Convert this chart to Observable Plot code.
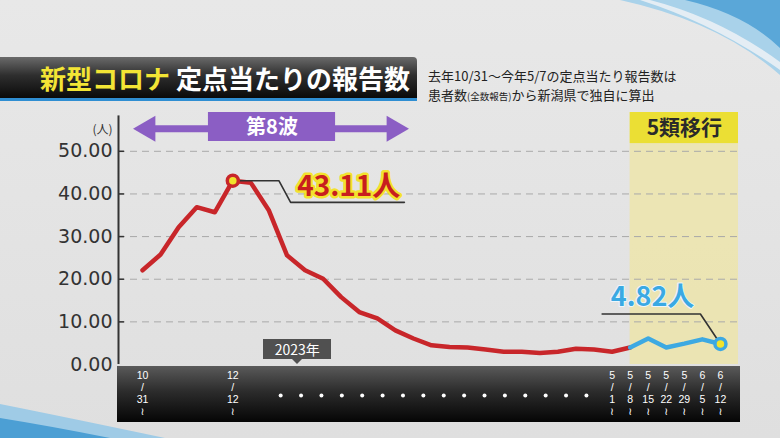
<!DOCTYPE html>
<html lang="ja"><head><meta charset="utf-8">
<script src="https://cdn.jsdelivr.net/npm/d3@7"></script>
<script src="https://cdn.jsdelivr.net/npm/@observablehq/plot@0.6"></script>
<style>
html,body{margin:0;padding:0;}
body{width:780px;height:438px;overflow:hidden;background:#e4e4e4;font-family:"Noto Sans CJK JP","Noto Sans",sans-serif;}
#wrap{position:relative;width:780px;height:438px;overflow:hidden;background:linear-gradient(180deg,#e8e8e8,#dfdfdf);}
#deco{position:absolute;left:0;top:0;}
#band{position:absolute;left:117px;top:366px;width:623px;height:56px;background:linear-gradient(180deg,#5a5a5a 0%,#2c2c2c 45%,#050505 100%);}
#title{position:absolute;left:0;top:57px;width:417px;height:41px;background:linear-gradient(180deg,#6a6a6a 0%,#2e2e2e 45%,#0a0a0a 100%);border-bottom:3px solid #2f8ed2;border-radius:0 4px 0 0;}
#title .t{position:absolute;left:40px;top:0;line-height:41px;font-size:26px;font-weight:700;white-space:nowrap;}
#title .yl{color:#f3e535}
#title .wh{color:#fff;margin-left:6px}
#sub{position:absolute;left:428px;top:66px;font-size:13px;line-height:19px;color:#222;white-space:nowrap;}
#sub small{font-size:9.5px;}
#chart{position:absolute;left:0;top:0;}
#yr{position:absolute;top:339px;height:20px;width:68px;background:#505050;color:#fff;font-size:14px;line-height:20px;text-align:center;font-family:"Noto Sans CJK JP",sans-serif;}
#yr:after{content:"";position:absolute;left:29px;top:20px;border-left:5px solid transparent;border-right:5px solid transparent;border-top:5px solid #505050;}
</style></head>
<body>
<div id="wrap">
  <svg id="deco" width="780" height="438">
    <path d="M620,0 L780,0 L780,75 Q720,22 620,0 Z" fill="#a9d2ea"/>
    <path d="M685,0 L780,0 L780,48 Q745,14 685,0 Z" fill="#5aa7d8"/>
    <path d="M650,0 Q720,18 780,62 L780,70 Q715,24 640,0 Z" fill="#f2f4f6" opacity="0.8"/>
    <path d="M0,404 Q70,418 165,438 L0,438 Z" fill="#9fcbe6"/>
    <path d="M0,418 Q50,426 110,438 L0,438 Z" fill="#4c9fd4"/>
  </svg>
  <div id="band"></div>
  <div id="chart"></div>
  <div id="title"><div class="t"><span class="yl">新型コロナ</span><span class="wh">定点当たりの報告数</span></div></div>
  <div id="sub">去年10/31～今年5/7の定点当たり報告数は<br>患者数<small>(全数報告)</small>から新潟県で独自に算出</div>
  <div id="yr">2023年</div>
</div>
<script>
// weekly points (10/31 ~ 6/12)
const estimateValues = [22.1,25.8,32.2,36.9,35.7,43.11,42.6,36.1,25.6,22.1,20.1,15.8,12.3,10.8,8.0,6.1,4.5,4.1,4.0,3.5,3.0,3.0,2.7,3.0,3.7,3.5,3.0];
const sentinelValues = [4.0,6.1,4.0,4.9,5.9,4.82];
const tickLabels = ["10/31","12/12","5/1","5/8","5/15","5/22","5/29","6/5","6/12"];
const tickWeeks = [0,5,26,27,28,29,30,31,32];
const yTicks = [0,10,20,30,40,50];
const waveLabel = "第8波";
const phaseLabel = "5類移行";
const unit = "人";

const est = estimateValues.map((v,i)=>({i, v}));
const sen = sentinelValues.map((v,k)=>({i: estimateValues.length + k, v}));
const redLine = est.concat([sen[0]]);
const peak = est.reduce((a,b)=> b.v > a.v ? b : a);
const last = sen[sen.length-1];
const shiftIdx = sen[0].i;

const xMin = -1.33, xMax = 33, yMax = 59.1;
const labelOf = new Map(tickWeeks.map((w,k)=>[w, tickLabels[k]]));
const fmtTick = w => { const [m,d] = labelOf.get(w).split("/"); return `${m}\n/\n${d}\n≀`; };

const peakLeader = [
  {x: peak.i, y: peak.v}, {x: peak.i+2.55, y: peak.v}, {x: peak.i+3.2, y: peak.v-5.08}, {x: peak.i+9.5, y: peak.v-5.08}
];
const lastLeader = [
  {x: last.i, y: last.v}, {x: last.i-1.11, y: last.v+7.03}, {x: last.i-6.55, y: last.v+7.03}
];
const dots = d3.range(16).map(k => 7.65 + k*(24.58-7.65)/15);

const chart = Plot.plot({
  width: 780, height: 438,
  marginLeft: 118, marginRight: 42, marginTop: 112, marginBottom: 74,
  style: {background: "transparent", fontFamily: "'Noto Sans CJK JP', sans-serif", overflow: "visible"},
  x: {domain: [xMin, xMax], axis: null},
  y: {domain: [0, yMax], axis: null},
  marks: [
    // 5類移行 band
    Plot.rect([{}], {x1: shiftIdx, x2: xMax, y1: 0, y2: 51.8, fill: "#f0e6a0", fillOpacity: 0.7}),
    Plot.rect([{}], {x1: shiftIdx, x2: xMax, y1: 51.8, y2: yMax, fill: "#ebdf34"}),
    Plot.text([phaseLabel], {x: (shiftIdx + xMax)/2, y: 55.5, fill: "#2a2a2a", fontSize: 21, fontWeight: 700}),
    // grid
    Plot.ruleY(yTicks.filter(d=>d>0), {x1: xMin, x2: xMax, stroke: "#a9a9a9", strokeDasharray: "7,5", strokeWidth: 1}),
    Plot.ruleY(yTicks.filter(d=>d>0), {x1: xMin, x2: xMin + 0.33, stroke: "#333", strokeWidth: 1.5}),
    Plot.ruleX([xMin], {y1: 0, y2: 58.3, stroke: "#333", strokeWidth: 2}),
    Plot.axisY({ticks: yTicks, tickFormat: d => d.toFixed(2), tickSize: 0, tickPadding: 6, fontSize: 19, fill: "#333", fontFamily: "DejaVu Sans", label: null}),
    Plot.text(["(人)"], {frameAnchor: "top-left", dx: -6, dy: 13, textAnchor: "end", fontSize: 12, fill: "#333"}),
    // wave arrow
    Plot.ruleY([55.3], {x1: 0.3, x2: 13.93, stroke: "#8b5ec4", strokeWidth: 7}),
    Plot.dot([{x: 0.3, r: -90}, {x: 13.93, r: 90}], {x: "x", y: 55.3, rotate: "r", symbol: "triangle", r: 9.6, fill: "#8b5ec4"}),
    Plot.rect([{}], {x1: 3.65, x2: 10.69, y1: 52.3, y2: yMax, fill: "#8b5ec4"}),
    Plot.text([waveLabel], {x: (3.65+10.69)/2, y: 55.6, fill: "#fff", fontSize: 20, fontWeight: 700}),
    // lines
    Plot.line(redLine, {x: "i", y: "v", stroke: "#c8262a", strokeWidth: 4.5, strokeLinejoin: "round", strokeLinecap: "round"}),
    Plot.line(sen, {x: "i", y: "v", stroke: "#3da9e2", strokeWidth: 4.5, strokeLinejoin: "round", strokeLinecap: "round"}),
    // leaders
    Plot.line(peakLeader, {x: "x", y: "y", stroke: "#333", strokeWidth: 1.6}),
    Plot.line(lastLeader, {x: "x", y: "y", stroke: "#333", strokeWidth: 1.6}),
    Plot.dot([peak], {x: "i", y: "v", r: 5.5, fill: "#f1e32c", stroke: "#c8262a", strokeWidth: 3.5}),
    Plot.dot([last], {x: "i", y: "v", r: 5.5, fill: "#f1e32c", stroke: "#3da9e2", strokeWidth: 3.5}),
    Plot.text([peak], {x: d => d.i + 6.42, y: d => d.v - 1.4, text: d => d.v.toFixed(2) + unit, fontSize: 28, fontWeight: 700, fill: "#c81e1e", stroke: "#f3e22e", strokeWidth: 5, paintOrder: "stroke"}),
    Plot.text([last], {x: d => d.i - 3.76, y: d => d.v + 11.0, text: d => d.v.toFixed(2) + unit, fontSize: 27, fontWeight: 700, fill: "#3aa9e3", stroke: "#eef6fb", strokeWidth: 2, paintOrder: "stroke"}),
    // x axis labels
    Plot.axisX({ticks: tickWeeks, tickFormat: fmtTick, tickSize: 0, tickPadding: 6, fontSize: 10.5, lineHeight: 1.15, fill: "#fff", fontFamily: "'Liberation Sans', 'DejaVu Sans', sans-serif", label: null}),
    Plot.dot(dots, {x: d => d, frameAnchor: "bottom", dy: 31, r: 2, fill: "#fff"})
  ]
});
document.getElementById("chart").appendChild(chart);
const xs = chart.scale("x");
const yr = document.getElementById("yr");
yr.style.left = (xs.apply(8.6) - 34) + "px";
</script>
</body></html>
